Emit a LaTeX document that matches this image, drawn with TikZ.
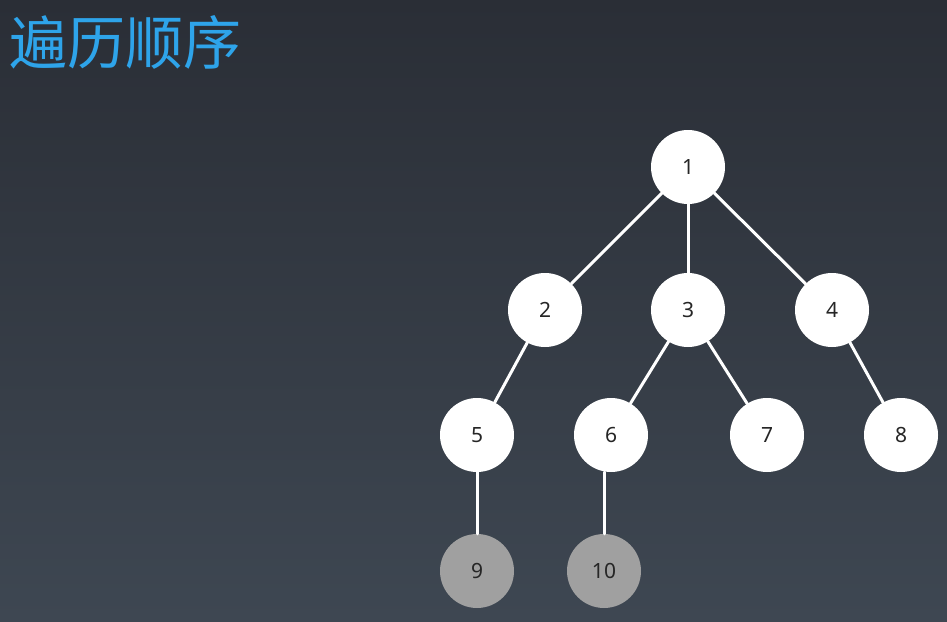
\documentclass[tikz,border=0pt]{standalone}
\usepackage{fontspec}
\setmainfont{Noto Sans}
\newfontfamily\cjk{Noto Sans CJK SC}
\definecolor{bgtop}{RGB}{42,46,54}
\definecolor{bgbot}{RGB}{62,71,82}
\definecolor{titleblue}{RGB}{46,164,234}
\definecolor{leafgray}{RGB}{160,160,160}
\tikzset{
  tnode/.style={circle,fill=white,minimum size=74pt,inner sep=0pt,font=\fontsize{21}{25}\selectfont,text=black!85},
  gnode/.style={tnode,fill=leafgray},
  tedge/.style={draw=white,line width=3pt}
}
\begin{document}
\begin{tikzpicture}[x=1pt,y=-1pt,line cap=round,line join=round]
\shade[top color=bgtop,bottom color=bgbot] (0,0) rectangle (947,621);
\useasboundingbox (0,0) rectangle (947,621);
\node[anchor=west,inner sep=0pt,text=titleblue,font=\cjk\fontsize{58}{66}\selectfont] (title) at (9,42) {遍历顺序};

\node[tnode] (n1) at (688,167) {1};
\node[tnode] (n2) at (545,310) {2};
\node[tnode] (n3) at (688,310) {3};
\node[tnode] (n4) at (832,310) {4};
\node[tnode] (n5) at (477,435) {5};
\node[tnode] (n6) at (611,435) {6};
\node[tnode] (n7) at (767,435) {7};
\node[tnode] (n8) at (901,435) {8};
\node[gnode] (n9) at (477,571) {9};
\node[gnode] (n10) at (604,571) {10};

\draw[tedge] (n1)--(n2);
\draw[tedge] (n1)--(n3);
\draw[tedge] (n1)--(n4);
\draw[tedge] (n2)--(n5);
\draw[tedge] (n3)--(n6);
\draw[tedge] (n3)--(n7);
\draw[tedge] (n4)--(n8);
\draw[tedge] (n5)--(n9);
\draw[tedge] (n10.north)--(n10.north |- n6.south);
\end{tikzpicture}
\end{document}
